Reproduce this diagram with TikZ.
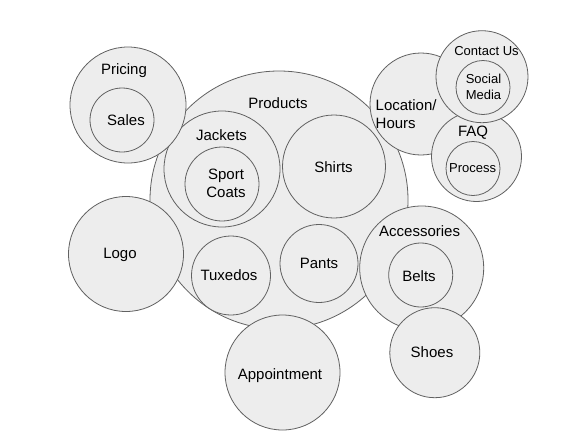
\documentclass[tikz,border=0pt]{standalone}
\usepackage{fontspec}
\setmainfont{Liberation Sans}
\begin{document}
\begin{tikzpicture}[x=1pt,y=-1pt,
  bub/.style={circle,draw=black!62,fill=black!7,line width=0.8pt,inner sep=0pt},
  big/.style={font=\fontsize{15}{18}\selectfont,inner sep=0pt,align=center},
  small/.style={font=\fontsize{13}{15.5}\selectfont,inner sep=0pt,align=center}]
\useasboundingbox (0,0) rectangle (586,442);
\fill[white] (0,0) rectangle (586,442);
% Products
\node[bub,minimum size=258pt] (products) at (279,200) {};
\node[bub,minimum size=116pt] (jackets) at (222,169) {};
\node[bub,minimum size=74pt] (sportcoats) at (222,184) {};
\node[bub,minimum size=103pt] (shirts) at (334,166.5) {};
\node[bub,minimum size=79pt] (tuxedos) at (231,275.5) {};
\node[bub,minimum size=78pt] (pants) at (319,263.5) {};
\node[big] (tproducts) at (278,103) {Products};
\node[big] (tjackets) at (221.5,135) {Jackets};
\node[big] (tsport) at (226,183) {Sport\\Coats};
\node[big] (tshirts) at (333.5,167.5) {Shirts};
\node[big] (ttux) at (229,275) {Tuxedos};
\node[big] (tpants) at (319,263) {Pants};
% Pricing
\node[bub,minimum size=116pt] (pricing) at (128,105) {};
\node[bub,minimum size=64pt] (sales) at (122,120) {};
\node[big] (tpricing) at (124,71) {Pricing};
\node[big] (tsales) at (126,120) {Sales};
% Logo
\node[bub,minimum size=115pt] (logo) at (126,254) {};
\node[big] (tlogo) at (120,255) {Logo};
% Appointment
\node[bub,minimum size=115pt] (appointment) at (282.5,372.5) {};
\node[big] (tappt) at (280,376) {Appointment};
% Location
\node[bub,minimum size=102pt] (location) at (421,104) {};
\node[big,align=left,anchor=west] (tlocation) at (375.5,114.5) {Location/\\Hours};
% FAQ
\node[bub,minimum size=90pt] (faq) at (476.5,156.5) {};
\node[bub,minimum size=54pt] (process) at (473,168.5) {};
\node[big] (tfaq) at (473,132.7) {FAQ};
\node[small] (tprocess) at (472.6,167.7) {Process};
% Contact
\node[bub,minimum size=92pt] (contact) at (482,76.7) {};
\node[bub,minimum size=54pt] (social) at (483,87.5) {};
\node[small] (tcontact) at (486.5,50.7) {Contact Us};
\node[small] (tsocial) at (483.5,87) {Social\\Media};
% Accessories
\node[bub,minimum size=124pt] (accessories) at (421.7,268) {};
\node[bub,minimum size=64pt] (belts) at (420.7,275) {};
\node[big] (taccess) at (419.6,231) {Accessories};
\node[big] (tbelts) at (419,276) {Belts};
% Shoes
\node[bub,minimum size=90pt] (shoes) at (434.8,352.7) {};
\node[big] (tshoes) at (432,351.7) {Shoes};
\end{tikzpicture}
\end{document}
